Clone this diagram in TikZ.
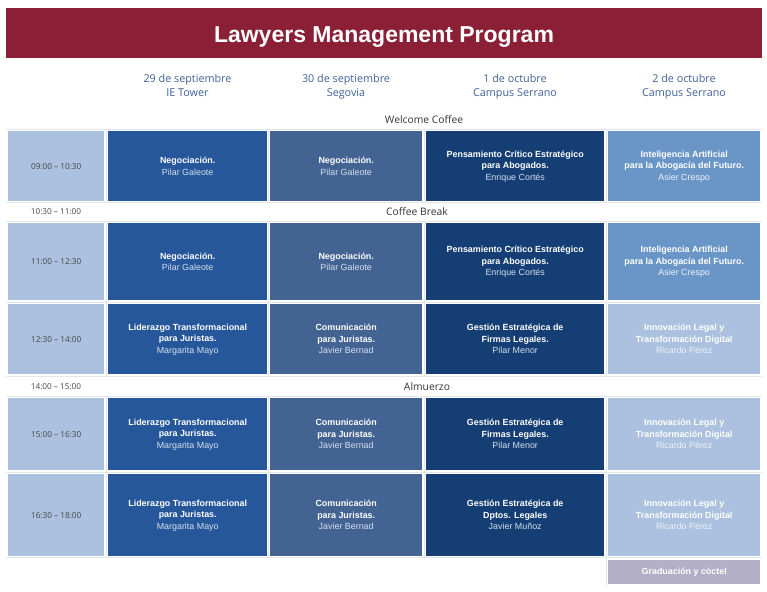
\documentclass[tikz,border=0pt]{standalone}
\usepackage{fontspec}
\setmainfont{Liberation Sans}
\newfontfamily\hfont{Open Sans}
\definecolor{titlered}{HTML}{8A1F36}
\definecolor{hdrblue}{HTML}{3F619A}
\definecolor{txtgray}{HTML}{333333}
\definecolor{timegray}{HTML}{444444}
\definecolor{cTime}{HTML}{ABC1DF}
\definecolor{cA}{HTML}{25579A}
\definecolor{cB}{HTML}{436493}
\definecolor{cC}{HTML}{143E74}
\definecolor{cD}{HTML}{6A96C7}
\definecolor{cE}{HTML}{ABC1DF}
\definecolor{cG}{HTML}{B3AFC8}
\definecolor{gridc}{HTML}{E2E7EF}
\definecolor{namedark}{HTML}{D4DFEE}
\definecolor{namelight}{HTML}{EEF2F8}
\newcommand\spk[1]{{\color{namedark}#1}}
\newcommand\spkl[1]{{\color{namelight}#1}}
\begin{document}
\begin{tikzpicture}[x=1pt,y=-1pt,
  cell/.style={inner sep=0pt, anchor=north west, align=center, text=white, font=\fontsize{8.9}{11.5}\selectfont},
  timecell/.style={inner sep=0pt, anchor=north west, align=center, text=timegray, fill=cTime, font=\hfont\fontsize{8.2}{10}\selectfont},
  timelbl/.style={inner sep=0pt, text=timegray, font=\hfont\fontsize{8.2}{10}\selectfont},
  brk/.style={inner sep=0pt, text=txtgray, font=\hfont\fontsize{10.3}{12}\selectfont},
  hdr/.style={inner sep=0pt, align=center, text=hdrblue, font=\hfont\fontsize{10.8}{13.5}\selectfont},
  gridline/.style={draw=gridc, line width=0.7pt}]
\useasboundingbox (0,0) rectangle (767,591);
% title band
\fill[titlered] (6,8) rectangle (762,58);
\node[inner sep=0pt, anchor=base, text=white, font=\bfseries\fontsize{23}{26}\selectfont] (title) at (384,42.5) {Lawyers Management Program};
% headers
\node[hdr] (h1) at (187.5,87) {\strut 29 de septiembre\\IE Tower\strut};
\node[hdr] (h2) at (346,87) {\strut 30 de septiembre\\Segovia\strut};
\node[hdr] (h3) at (515,87) {\strut 1 de octubre\\Campus Serrano\strut};
\node[hdr] (h4) at (684,87) {\strut 2 de octubre\\Campus Serrano\strut};
% faint grid
\foreach \yy in {129.5,202.5,221.5,302,376,396.5,472,557.5}
  \draw[gridline] (6,\yy) -- (762,\yy);
\foreach \xx in {106,268.5,424,606}{
  \draw[gridline] (\xx,129.5) -- (\xx,202.5);
  \draw[gridline] (\xx,221.5) -- (\xx,376);
  \draw[gridline] (\xx,396.5) -- (\xx,557.5);
}
\draw[gridline] (606,557.5) -- (606,586);
% break labels
\node[brk] (wc) at (424,120) {Welcome Coffee};
\node[timelbl] (t2) at (56,212) {10:30 – 11:00};
\node[brk] (cb) at (417,212) {Coffee Break};
\node[timelbl] (t4) at (56,387) {14:00 – 15:00};
\node[brk] (al) at (427,387) {Almuerzo};
% time cells
\node[timecell, minimum width=96pt, minimum height=70pt] (t1) at (8,131) {09:00 – 10:30};
\node[timecell, minimum width=96pt, minimum height=77pt] (t3) at (8,223) {11:00 – 12:30};
\node[timecell, minimum width=96pt, minimum height=70pt] (t5) at (8,304) {12:30 – 14:00};
\node[timecell, minimum width=96pt, minimum height=72pt] (t6) at (8,398) {15:00 – 16:30};
\node[timecell, minimum width=96pt, minimum height=82pt] (t7) at (8,474) {16:30 – 18:00};
% row 1
\node[cell, fill=cA, minimum width=159pt, minimum height=70pt] (a1) at (108,131) {\textbf{Negociación.}\\\spk{Pilar Galeote}};
\node[cell, fill=cB, minimum width=152pt, minimum height=70pt] (b1) at (270,131) {\textbf{Negociación.}\\\spk{Pilar Galeote}};
\node[cell, fill=cC, minimum width=178pt, minimum height=70pt] (c1) at (426,131) {\textbf{Pensamiento Crítico Estratégico}\\\textbf{para Abogados.}\\\spk{Enrique Cortés}};
\node[cell, fill=cD, minimum width=152pt, minimum height=70pt] (d1) at (608,131) {\textbf{Inteligencia Artificial}\\\textbf{para la Abogacía del Futuro.}\\\spkl{Asier Crespo}};
% row 2
\node[cell, fill=cA, minimum width=159pt, minimum height=77pt] (a2) at (108,223) {\textbf{Negociación.}\\\spk{Pilar Galeote}};
\node[cell, fill=cB, minimum width=152pt, minimum height=77pt] (b2) at (270,223) {\textbf{Negociación.}\\\spk{Pilar Galeote}};
\node[cell, fill=cC, minimum width=178pt, minimum height=77pt] (c2) at (426,223) {\textbf{Pensamiento Crítico Estratégico}\\\textbf{para Abogados.}\\\spk{Enrique Cortés}};
\node[cell, fill=cD, minimum width=152pt, minimum height=77pt] (d2) at (608,223) {\textbf{Inteligencia Artificial}\\\textbf{para la Abogacía del Futuro.}\\\spkl{Asier Crespo}};
% row 3
\node[cell, fill=cA, minimum width=159pt, minimum height=70pt] (a3) at (108,304) {\textbf{Liderazgo Transformacional}\\\textbf{para Juristas.}\\\spk{Margarita Mayo}};
\node[cell, fill=cB, minimum width=152pt, minimum height=70pt] (b3) at (270,304) {\textbf{Comunicación}\\\textbf{para Juristas.}\\\spk{Javier Bernad}};
\node[cell, fill=cC, minimum width=178pt, minimum height=70pt] (c3) at (426,304) {\textbf{Gestión Estratégica de}\\\textbf{Firmas Legales.}\\\spk{Pilar Menor}};
\node[cell, fill=cE, minimum width=152pt, minimum height=70pt] (d3) at (608,304) {\textbf{Innovación Legal y}\\\textbf{Transformación Digital}\\\spkl{Ricardo Pérez}};
% row 4
\node[cell, fill=cA, minimum width=159pt, minimum height=72pt] (a4) at (108,398) {\textbf{Liderazgo Transformacional}\\\textbf{para Juristas.}\\\spk{Margarita Mayo}};
\node[cell, fill=cB, minimum width=152pt, minimum height=72pt] (b4) at (270,398) {\textbf{Comunicación}\\\textbf{para Juristas.}\\\spk{Javier Bernad}};
\node[cell, fill=cC, minimum width=178pt, minimum height=72pt] (c4) at (426,398) {\textbf{Gestión Estratégica de}\\\textbf{Firmas Legales.}\\\spk{Pilar Menor}};
\node[cell, fill=cE, minimum width=152pt, minimum height=72pt] (d4) at (608,398) {\textbf{Innovación Legal y}\\\textbf{Transformación Digital}\\\spkl{Ricardo Pérez}};
% row 5
\node[cell, fill=cA, minimum width=159pt, minimum height=82pt] (a5) at (108,474) {\textbf{Liderazgo Transformacional}\\\textbf{para Juristas.}\\\spk{Margarita Mayo}};
\node[cell, fill=cB, minimum width=152pt, minimum height=82pt] (b5) at (270,474) {\textbf{Comunicación}\\\textbf{para Juristas.}\\\spk{Javier Bernad}};
\node[cell, fill=cC, minimum width=178pt, minimum height=82pt] (c5) at (426,474) {\textbf{Gestión Estratégica de}\\\textbf{Dptos. Legales}\\\spk{Javier Muñoz}};
\node[cell, fill=cE, minimum width=152pt, minimum height=82pt] (d5) at (608,474) {\textbf{Innovación Legal y}\\\textbf{Transformación Digital}\\\spkl{Ricardo Pérez}};
% graduation
\node[cell, fill=cG, minimum width=152pt, minimum height=24pt] (grad) at (608,560) {\textbf{Graduación y cóctel}};
\end{tikzpicture}
\end{document}
